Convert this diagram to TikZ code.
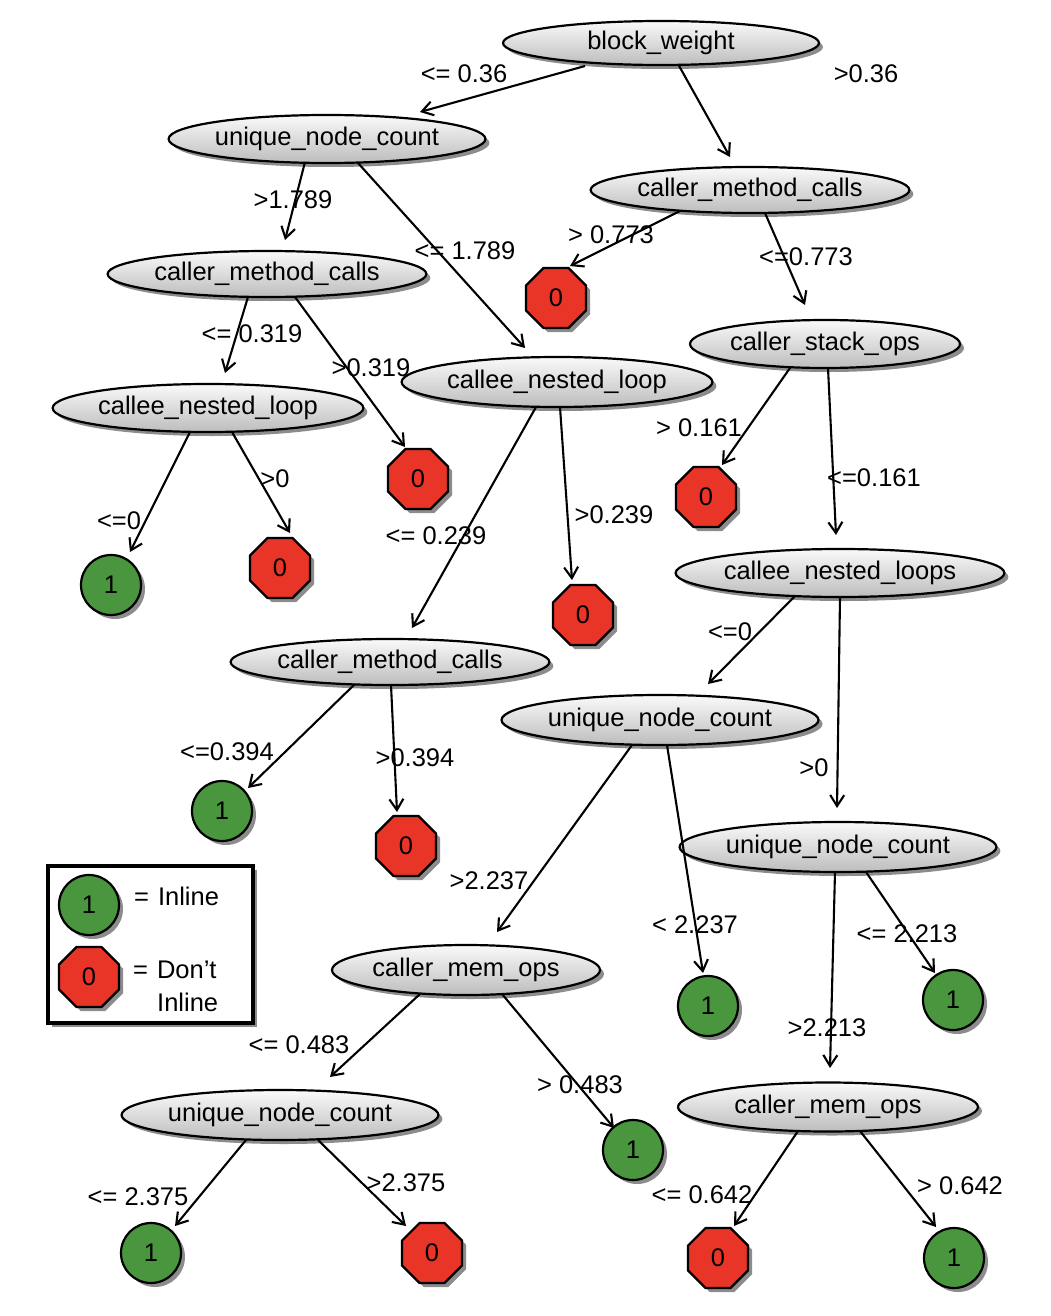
\documentclass[tikz,border=0pt]{standalone}
\usepackage{fontspec}
\setmainfont[Ligatures=ResetAll]{Liberation Sans}
\usetikzlibrary{shapes.geometric,shadows,arrows.meta,calc}
\definecolor{leafgreen}{RGB}{74,150,62}
\definecolor{leafred}{RGB}{233,52,40}
\begin{document}
\begin{tikzpicture}[x=1pt,y=-1pt,
  every node/.style={font=\fontsize{25.5}{32}\selectfont, inner sep=0pt},
  shd/.style={drop shadow={shadow xshift=4pt, shadow yshift=-4pt, opacity=0.45, fill=black}},
  feat/.style={ellipse, draw, line width=2.2pt, top color=gray!4, bottom color=gray!52, shd},
  yes/.style={circle, draw, line width=2.2pt, fill=leafgreen, minimum size=60pt, shd},
  no/.style={regular polygon, regular polygon sides=8, draw, line width=2.2pt, fill=leafred, minimum size=65pt, shd},
  edge/.style={line width=2.1pt, -{Straight Barb[length=11pt,width=14pt]}},
  lbl/.style={}
]
\useasboundingbox (0,0) rectangle (1050,1316);

% decision nodes
\node[feat, minimum width=316pt, minimum height=44pt] (bw) at (661,43) {block\_weight};
\node[feat, minimum width=313pt, minimum height=48pt] (unc1) at (327,139) {unique\_node\_count};
\node[feat, minimum width=313pt, minimum height=46pt] (cmcA) at (750,190) {caller\_method\_calls};
\node[feat, minimum width=313pt, minimum height=46pt] (cmcB) at (267,274) {caller\_method\_calls};
\node[feat, minimum width=270pt, minimum height=48pt] (cso) at (825,344) {caller\_stack\_ops};
\node[feat, minimum width=305pt, minimum height=50pt] (cnlA) at (557,382) {callee\_nested\_loop};
\node[feat, minimum width=305pt, minimum height=48pt] (cnlB) at (208,408) {callee\_nested\_loop};
\node[feat, minimum width=327pt, minimum height=48pt] (cnls) at (840,573) {callee\_nested\_loops};
\node[feat, minimum width=314pt, minimum height=46pt] (cmcC) at (390,662) {caller\_method\_calls};
\node[feat, minimum width=317pt, minimum height=50pt] (unc2) at (660,720) {unique\_node\_count};
\node[feat, minimum width=314pt, minimum height=50pt] (unc3) at (838,847) {unique\_node\_count};
\node[feat, minimum width=268pt, minimum height=50pt] (cmo1) at (466,970) {caller\_mem\_ops};
\node[feat, minimum width=314pt, minimum height=50pt] (unc4) at (280,1115) {unique\_node\_count};
\node[feat, minimum width=300pt, minimum height=49pt] (cmo2) at (828,1107) {caller\_mem\_ops};

% leaves
\node[no] (nA) at (556,298) {0};
\node[no] (nB) at (418,479) {0};
\node[no] (nC) at (706,497) {0};
\node[yes] (yA) at (111,585) {1};
\node[no] (nD) at (280,568) {0};
\node[no] (nE) at (583,615) {0};
\node[yes] (yB) at (222,811) {1};
\node[no] (nF) at (406,846) {0};
\node[yes] (yC) at (708,1006) {1};
\node[yes] (yD) at (953,1000) {1};
\node[yes] (yE) at (633,1150) {1};
\node[yes] (yF) at (151,1253) {1};
\node[no] (nG) at (432,1253) {0};
\node[no] (nH) at (718,1258) {0};
\node[yes] (yG) at (954,1258) {1};

% branches
\draw[edge] ($(bw)+(-76,23)$) -- ($(unc1)+(93,-27)$);
\draw[edge] ($(bw)+(17,21)$) -- ($(cmcA)+(-20,-33)$);
\draw[edge] ($(unc1)+(-22,23)$) -- ($(cmcB)+(18,-34)$);
\draw[edge] ($(unc1)+(31,24)$) -- ($(cnlA)+(-32,-34)$);
\draw[edge] ($(cmcA)+(-70,21)$) -- ($(nA)+(14,-32)$);
\draw[edge] ($(cmcA)+(15,23)$) -- ($(cso)+(-20,-39)$);
\draw[edge] ($(cmcB)+(-19,23)$) -- ($(cnlB)+(17,-35)$);
\draw[edge] ($(cmcB)+(28,23)$) -- ($(nB)+(-13,-32)$);
\draw[edge] ($(cso)+(-35,24)$) -- ($(nC)+(16,-32)$);
\draw[edge] ($(cso)+(3,24)$) -- ($(cnls)+(-4,-38)$);
\draw[edge] ($(cnlB)+(-18,24)$) -- ($(yA)+(19,-33)$);
\draw[edge] ($(cnlB)+(24,24)$) -- ($(nD)+(10,-35)$);
\draw[edge] ($(cnlA)+(-21,25)$) -- ($(cmcC)+(22,-34)$);
\draw[edge] ($(cnlA)+(3,25)$) -- ($(nE)+(-11,-35)$);
\draw[edge] ($(cnls)+(-45,23)$) -- ($(unc2)+(48,-36)$);
\draw[edge] ($(cnls)+(0,24)$) -- ($(unc3)+(-1,-39)$);
\draw[edge] ($(cmcC)+(-35,22)$) -- ($(yB)+(26,-23)$);
\draw[edge] ($(cmcC)+(1,23)$) -- ($(nF)+(-9,-34)$);
\draw[edge] ($(unc2)+(-28,25)$) -- ($(cmo1)+(31,-38)$);
\draw[edge] ($(unc2)+(7,25)$) -- ($(yC)+(-5,-33)$);
\draw[edge] ($(unc3)+(28,25)$) -- ($(yD)+(-18,-27)$);
\draw[edge] ($(unc3)+(-3,25)$) -- ($(cmo2)+(2,-39)$);
\draw[edge] ($(cmo1)+(-46,24)$) -- ($(unc4)+(50,-38)$);
\draw[edge] ($(cmo1)+(36,24)$) -- ($(yE)+(-19,-22)$);
\draw[edge] ($(unc4)+(-34,25)$) -- ($(yF)+(24,-27)$);
\draw[edge] ($(unc4)+(38,25)$) -- ($(nG)+(-26,-27)$);
\draw[edge] ($(cmo2)+(-30,24)$) -- ($(nH)+(16,-32)$);
\draw[edge] ($(cmo2)+(32,24)$) -- ($(yG)+(-18,-31)$);

% branch conditions
\node[lbl] (l1) at (464,74) {<= 0.36};
\node[lbl] (l2) at (866,74) {>0.36};
\node[lbl] (l3) at (293,200) {>1.789};
\node[lbl] (l4) at (465,251) {<= 1.789};
\node[lbl] (l5) at (611,235) {> 0.773};
\node[lbl] (l6) at (806,257) {<=0.773};
\node[lbl] (l7) at (252,334) {<= 0.319};
\node[lbl] (l8) at (371,368) {>0.319};
\node[lbl] (l9) at (699,428) {> 0.161};
\node[lbl] (l10) at (874,478) {<=0.161};
\node[lbl] (l11) at (119,521) {<=0};
\node[lbl] (l12) at (275,479) {>0};
\node[lbl] (l13) at (436,536) {<= 0.239};
\node[lbl] (l14) at (614,515) {>0.239};
\node[lbl] (l15) at (730,632) {<=0};
\node[lbl] (l16) at (814,768) {>0};
\node[lbl] (l17) at (227,752) {<=0.394};
\node[lbl] (l18) at (415,758) {>0.394};
\node[lbl] (l19) at (489,881) {>2.237};
\node[lbl] (l20) at (695,925) {< 2.237};
\node[lbl] (l21) at (907,934) {<= 2.213};
\node[lbl] (l22) at (827,1028) {>2.213};
\node[lbl] (l23) at (299,1045) {<= 0.483};
\node[lbl] (l24) at (580,1085) {> 0.483};
\node[lbl] (l25) at (138,1197) {<= 2.375};
\node[lbl] (l26) at (406,1183) {>2.375};
\node[lbl] (l27) at (702,1195) {<= 0.642};
\node[lbl] (l28) at (960,1186) {> 0.642};

% legend
\node[draw, line width=3.5pt, fill=white, minimum width=205pt, minimum height=157pt, shd] (legend) at (150.5,944.5) {};
\node[yes] (lgY) at (89,905) {1};
\node[no] (lgN) at (89,977) {0};
\node[anchor=west] (lgYt) at (134,896) {=\hspace{0.35em}Inline};
\node[anchor=west] (lgNt) at (133,970) {=\hspace{0.35em}Don't};
\node[anchor=west] (lgNt2) at (157,1002) {Inline};
\end{tikzpicture}
\end{document}
